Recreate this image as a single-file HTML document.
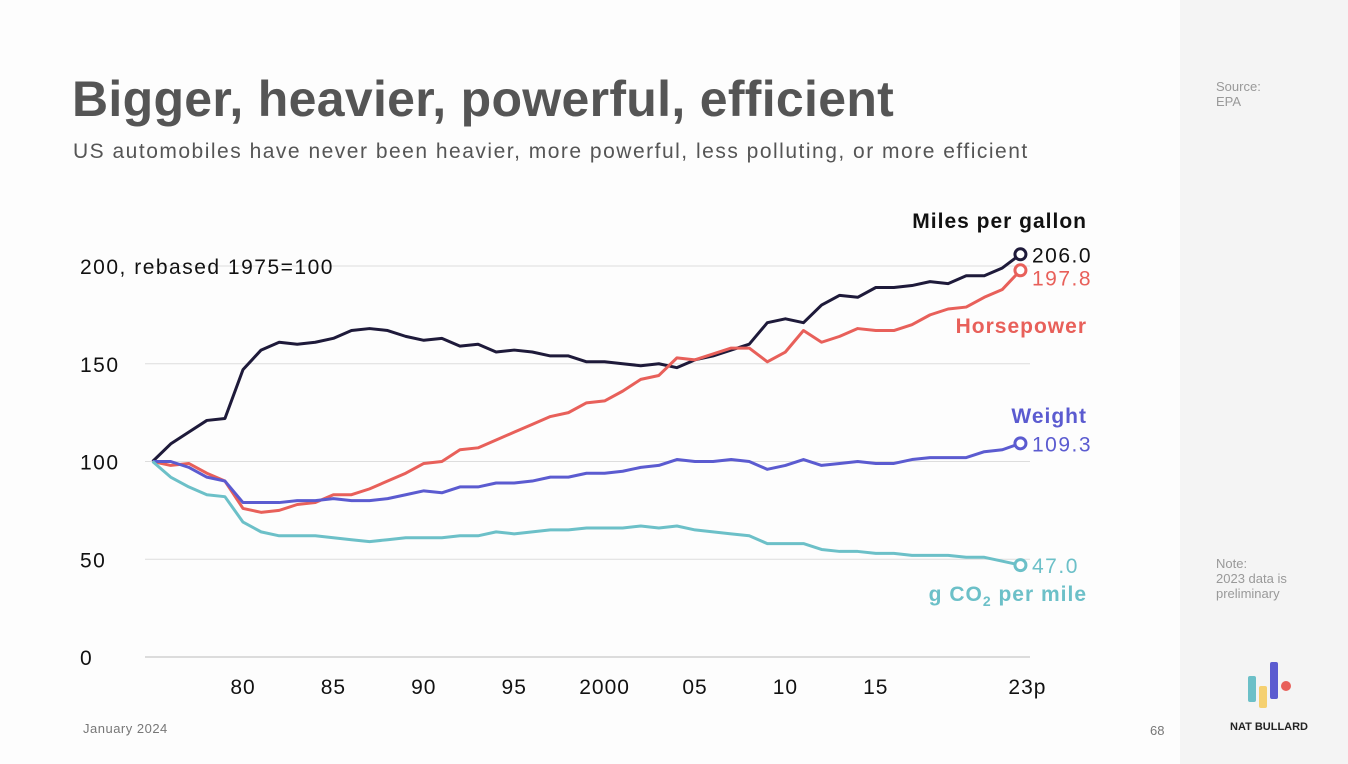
<!DOCTYPE html>
<html><head><meta charset="utf-8"><style>
body{margin:0;width:1348px;height:764px;overflow:hidden;background:#fdfdfd;font-family:"Liberation Sans",sans-serif;position:relative}
.abs{position:absolute}
</style></head><body>
<div class="abs" style="left:1180px;top:0;width:168px;height:764px;background:#f4f4f4"></div>
<div class="abs" style="left:72px;top:70px;font-size:50px;font-weight:bold;color:#555;letter-spacing:0.3px">Bigger, heavier, powerful, efficient</div>
<div class="abs" style="left:73px;top:140px;font-size:21px;color:#555;letter-spacing:1.5px">US automobiles have never been heavier, more powerful, less polluting, or more efficient</div>
<div class="abs" style="left:1216px;top:79px;font-size:13px;color:#999;line-height:15px">Source:<br>EPA</div>
<div class="abs" style="left:1216px;top:556px;font-size:13px;color:#999;line-height:15px">Note:<br>2023 data is<br>preliminary</div>
<div class="abs" style="left:83px;top:721px;font-size:13px;color:#777;letter-spacing:0.5px">January 2024</div>
<div class="abs" style="left:1150px;top:723px;font-size:13px;color:#777">68</div>
<svg class="abs" style="left:1240px;top:655px" width="60" height="55">
<rect x="8" y="21" width="8" height="26" rx="2" fill="#6cc0c8"/>
<rect x="19" y="31" width="8" height="22" rx="2" fill="#f5d070"/>
<rect x="30" y="7" width="8" height="37" rx="2" fill="#5b5bd0"/>
<circle cx="46" cy="31" r="5" fill="#e8605a"/>
</svg>
<div class="abs" style="left:1230px;top:721px;font-size:11px;font-weight:bold;color:#222">NAT BULLARD</div>
<svg id="chart" class="abs" style="left:0;top:0" width="1180" height="764"></svg>
<script>
const years=[];for(let y=1975;y<=2023;y++)years.push(y);
const mpg=[100,109,115,121,122,147,157,161,160,161,163,167,168,167,164,162,163,159,160,156,157,156,154,154,151,151,150,149,150,148,152,154,157,160,171,173,171,180,185,184,189,189,190,192,191,195,195,199,206];
const hp=[100,98,99,94,90,76,74,75,78,79,83,83,86,90,94,99,100,106,107,111,115,119,123,125,130,131,136,142,144,153,152,155,158,158,151,156,167,161,164,168,167,167,170,175,178,179,184,188,197.8];
const weight=[100,100,97,92,90,79,79,79,80,80,81,80,80,81,83,85,84,87,87,89,89,90,92,92,94,94,95,97,98,101,100,100,101,100,96,98,101,98,99,100,99,99,101,102,102,102,105,106,109.3];
const co2=[100,92,87,83,82,69,64,62,62,62,61,60,59,60,61,61,61,62,62,64,63,64,65,65,66,66,66,67,66,67,65,64,63,62,58,58,58,55,54,54,53,53,52,52,52,51,51,49,47];
const yTicks=[0,50,100,150,200];
const yTickLabels=["0","50","100","150","200, rebased 1975=100"];
const xTicks=[1980,1985,1990,1995,2000,2005,2010,2015,2023];
const xTickLabels=["80","85","90","95","2000","05","10","15","23p"];
const X=y=>152.6+(y-1975)*18.08, Y=v=>657-v*1.955;
const svg=document.getElementById('chart');const NS='http://www.w3.org/2000/svg';
function mk(t,a,txt){const e=document.createElementNS(NS,t);for(const k in a)e.setAttribute(k,a[k]);if(txt!=null)e.textContent=txt;svg.appendChild(e);return e;}
yTicks.forEach((v,i)=>{
 const g=mk('line',{x1:145,x2:1030,y1:Y(v),y2:Y(v),stroke:v===0?'#bbb':'#ddd','stroke-width':1});
 
 
 const t=mk('text',{x:80,y:Y(v)+8,'font-size':21,fill:'#111','letter-spacing':1.5},yTickLabels[i]);
 
 
});
xTicks.forEach((y,i)=>{
 const t=mk('text',{x:X(y)+(y===2023?7:0),y:694,'font-size':21,fill:'#111','text-anchor':'middle','letter-spacing':1},xTickLabels[i]);
 
 
});
const series=[["mpg",mpg,"#1e1a3a","206.0","#111"],["horsepower",hp,"#e8605a","197.8","#e8605a"],["weight",weight,"#5b5bd0","109.3","#5b5bd0"],["co2",co2,"#6cc0c8","47.0","#6cc0c8"]];
series.forEach(([n,d,c,lab,lc])=>{
 const p=mk('polyline',{points:d.map((v,i)=>X(years[i])+','+Y(v)).join(' '),fill:'none',stroke:c,'stroke-width':3,'stroke-linejoin':'round'});
 
 
 const last=d[d.length-1];
 const ci=mk('circle',{cx:X(2023),cy:Y(last),r:5.5,fill:'#fff',stroke:c,'stroke-width':3});
 
 
 const t=mk('text',{x:1032,y:Y(last)+(n==='horsepower'?15:8),'font-size':21,fill:lc,'letter-spacing':1.5},lab);
 
 
});
[["Miles per gallon",228,"#111","mpg-label"],["Horsepower",333,"#e8605a","horsepower-label"],["Weight",423,"#5b5bd0","weight-label"]].forEach(([s,y,c,n])=>{
 const t=mk('text',{x:1087,y:y,'font-size':21,'font-weight':'bold',fill:c,'text-anchor':'end','letter-spacing':1},s);
 
 
});
const ct=mk('text',{x:1087,y:601,'font-size':21,'font-weight':'bold',fill:'#6cc0c8','text-anchor':'end','letter-spacing':1});
ct.innerHTML='g CO<tspan font-size="14" dy="5">2</tspan><tspan dy="-5"> per mile</tspan>';


</script>
</body></html>
